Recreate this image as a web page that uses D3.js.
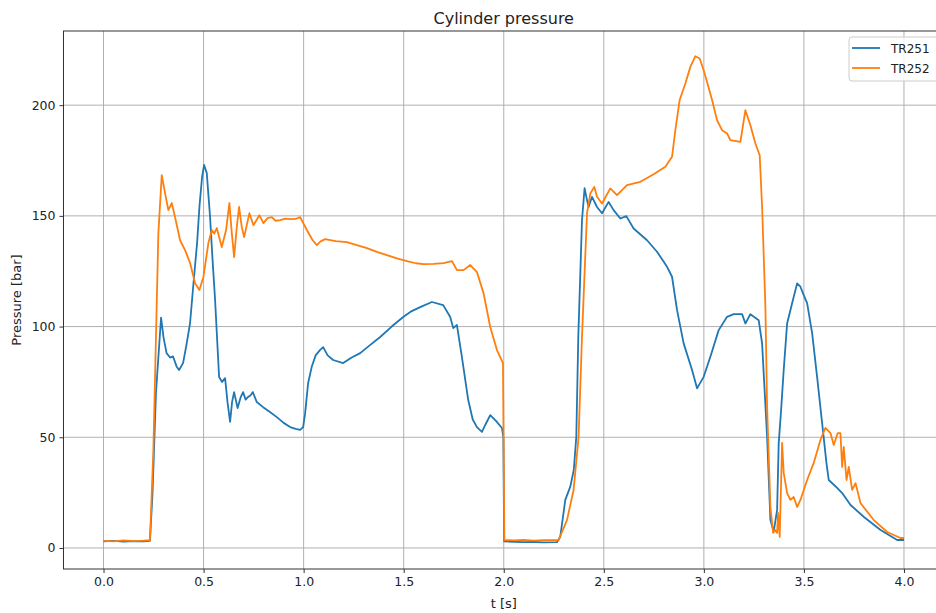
<!DOCTYPE html>
<html>
<head>
<meta charset="utf-8">
<script src="https://cdn.jsdelivr.net/npm/d3@7"></script>
<style>
  body { margin: 0; background: #fff; }
  svg { display: block; font-family: "DejaVu Sans", sans-serif; }
</style>
</head>
<body>
<div id="chart"></div>
<script>
// series: [t (s), pressure (bar)]
const tr251 = [[0,3.0],[0.05,3.2],[0.1,2.9],[0.15,3.1],[0.2,3.0],[0.232,3.2],[0.245,25],[0.262,70],[0.2875,104],[0.30,95],[0.315,88],[0.3325,86],[0.3475,86.5],[0.365,82],[0.3775,80.4],[0.3975,83.5],[0.415,92],[0.4325,101.6],[0.45,120],[0.4675,137.7],[0.48,155],[0.4925,167.5],[0.5025,173],[0.516,169.3],[0.5325,149.4],[0.545,130],[0.5575,112],[0.5775,77.2],[0.5925,75],[0.6075,76.7],[0.62,65.5],[0.6325,57],[0.6425,66],[0.6525,70.4],[0.67,63.2],[0.685,68],[0.6975,70.4],[0.71,67],[0.7225,68.2],[0.735,69],[0.746,70.4],[0.766,65.9],[0.7975,63.6],[0.83,61.5],[0.866,59.1],[0.9,56.5],[0.9325,54.6],[0.96,53.8],[0.9825,53.3],[0.9975,54.6],[1.0075,60.9],[1.0225,74.5],[1.041,82],[1.06,87],[1.0825,89.5],[1.0975,90.7],[1.12,87],[1.1475,84.9],[1.1975,83.5],[1.24,86],[1.2825,88],[1.33,91.5],[1.3825,95.3],[1.44,100],[1.4975,104.3],[1.54,107],[1.5825,108.8],[1.641,111.1],[1.6975,109.7],[1.7325,104.3],[1.7475,99.3],[1.766,100.7],[1.791,86.2],[1.8225,66.8],[1.845,58],[1.866,54.6],[1.891,52.4],[1.91,56],[1.9325,60],[1.96,57.5],[1.991,54.2],[1.998,50],[2.002,3.0],[2.05,2.8],[2.1,2.6],[2.15,2.7],[2.2,2.5],[2.266,2.6],[2.2825,5.1],[2.3075,21.7],[2.3325,27.7],[2.35,35.2],[2.3625,50.2],[2.3725,95.3],[2.391,148],[2.404,162.5],[2.414,158],[2.424,154],[2.441,158.6],[2.466,154],[2.491,151.2],[2.524,156.3],[2.549,152.6],[2.5825,148.8],[2.6125,149.9],[2.649,144.3],[2.716,139],[2.766,133.8],[2.816,127],[2.841,122.5],[2.866,107.4],[2.899,92.4],[2.941,80.4],[2.966,72.1],[2.999,77.3],[3.0325,86.4],[3.074,98.4],[3.116,104.4],[3.149,105.6],[3.191,105.6],[3.2075,101.4],[3.2325,105.6],[3.274,102.9],[3.291,92.4],[3.316,50.2],[3.3325,12.6],[3.349,7.4],[3.366,17.2],[3.374,47.3],[3.386,62.3],[3.399,80.4],[3.416,101.4],[3.441,110.5],[3.466,119.5],[3.4825,118],[3.5,114],[3.516,110.6],[3.541,97],[3.566,77.2],[3.591,56.4],[3.6125,38.4],[3.624,30.7],[3.666,27.1],[3.691,24.8],[3.733,19.4],[3.8,14],[3.883,8.1],[3.966,3.6],[4.0,3.6]];

const tr252 = [[0,3.2],[0.05,3.0],[0.1,3.4],[0.15,3.1],[0.2,3.3],[0.232,3.5],[0.249,44],[0.274,142],[0.291,168.4],[0.3075,160.3],[0.324,152.6],[0.341,155.8],[0.3575,149.4],[0.3825,139],[0.4075,134.5],[0.4325,128.7],[0.4575,119.6],[0.479,116.5],[0.499,122.3],[0.524,137.7],[0.541,143.6],[0.553,142],[0.566,144.5],[0.591,135.9],[0.6125,143.6],[0.629,155.8],[0.641,142.2],[0.6525,131.4],[0.666,144.9],[0.6775,154],[0.691,144.9],[0.7025,140.4],[0.729,151.2],[0.749,145.8],[0.779,150.3],[0.799,146.7],[0.82,149],[0.841,149.4],[0.86,147.8],[0.8825,148.1],[0.91,148.8],[0.9325,148.5],[0.96,148.6],[0.9825,149.4],[1.016,143.6],[1.045,139],[1.066,136.8],[1.085,138.5],[1.1075,139.5],[1.16,138.6],[1.216,138.1],[1.266,136.8],[1.316,135.4],[1.366,133.7],[1.416,132.3],[1.466,130.8],[1.516,129.6],[1.56,128.6],[1.599,128.2],[1.65,128.3],[1.699,128.7],[1.741,129.6],[1.766,125.5],[1.799,125.5],[1.8325,127.8],[1.866,124.6],[1.899,115.1],[1.9325,99.8],[1.966,89.4],[1.996,83.5],[2.0,40],[2.003,3.6],[2.05,3.4],[2.1,3.6],[2.15,3.3],[2.2,3.5],[2.274,3.6],[2.316,12.6],[2.349,26.2],[2.374,50.2],[2.391,95.4],[2.416,151.1],[2.4325,160.1],[2.4525,163.1],[2.466,158.6],[2.491,155.6],[2.5325,162.4],[2.566,159.4],[2.616,163.9],[2.6825,165.4],[2.749,168.8],[2.8075,172.2],[2.841,176.7],[2.8575,188.7],[2.879,202.3],[2.9075,209.8],[2.9325,217.3],[2.9575,222.1],[2.979,221.1],[2.999,215.8],[3.016,210.5],[3.041,202.3],[3.066,193.2],[3.091,188.7],[3.116,187.2],[3.1325,184.2],[3.1825,183.4],[3.2075,197.7],[3.2325,190.9],[3.2575,182.7],[3.279,177.4],[3.291,154.1],[3.3075,109],[3.316,63.8],[3.3325,18.6],[3.346,6.8],[3.356,8.1],[3.366,6.8],[3.371,15.8],[3.379,5],[3.391,47.4],[3.399,33.9],[3.416,24.8],[3.4325,21.7],[3.449,23],[3.466,18.5],[3.4825,21.7],[3.516,30.7],[3.549,38.4],[3.5825,48.8],[3.6075,54.2],[3.6325,51.9],[3.649,46.5],[3.669,51.9],[3.6825,51.9],[3.691,36.6],[3.699,45.6],[3.713,30.7],[3.724,36.6],[3.741,26.2],[3.758,29.3],[3.7825,20.3],[3.849,12.6],[3.916,7.2],[3.9825,4.5],[4.0,4.5]];

const seriesNames = ["TR251", "TR252"];
const seriesColors = ["#1f77b4", "#ff7f0e"];
const xTicks = [0, 0.5, 1, 1.5, 2, 2.5, 3, 3.5, 4];
const yTicks = [0, 50, 100, 150, 200];

const W = 936, H = 613;
// axes box (right edge falls outside the picture, as in the original)
const margin = {top: 31, right: -8, bottom: 44, left: 63.5};
const width = W - margin.left - margin.right;
const height = H - margin.top - margin.bottom;

const xScale = d3.scaleLinear().domain([-0.2, 4.2]).range([0, width]);
const yScale = d3.scaleLinear().domain([-9.5, 233.5]).range([height, 0]);

const svg = d3.select("#chart").append("svg")
    .attr("width", W).attr("height", H);

const g = svg.append("g")
    .attr("transform", `translate(${margin.left},${margin.top})`);

g.append("clipPath").attr("id", "clip")
  .append("rect").attr("width", width).attr("height", height);

// grid
g.append("g").selectAll("line").data(xTicks).enter().append("line")
    .attr("x1", d => xScale(d)).attr("x2", d => xScale(d))
    .attr("y1", 0).attr("y2", height)
    .attr("stroke", "#b0b0b0").attr("stroke-width", 1);
g.append("g").selectAll("line").data(yTicks).enter().append("line")
    .attr("x1", 0).attr("x2", width)
    .attr("y1", d => yScale(d)).attr("y2", d => yScale(d))
    .attr("stroke", "#b0b0b0").attr("stroke-width", 1);

// lines
const line = d3.line()
    .x(d => xScale(d[0]))
    .y(d => yScale(d[1]));

[tr251, tr252].forEach((data, i) => {
  g.append("path")
    .datum(data)
    .attr("clip-path", "url(#clip)")
    .attr("fill", "none")
    .attr("stroke", seriesColors[i])
    .attr("stroke-width", 1.8)
    .attr("stroke-linejoin", "round")
    .attr("d", line);
});

// axes
const xAxis = d3.axisBottom(xScale).tickValues(xTicks).tickFormat(d3.format(".1f")).tickSize(4).tickPadding(4);
const yAxis = d3.axisLeft(yScale).tickValues(yTicks).tickSize(4).tickPadding(4);

const gx = g.append("g").attr("transform", `translate(0,${height})`).call(xAxis);
const gy = g.append("g").call(yAxis);
[gx, gy].forEach(a => {
  a.select(".domain").remove();
  a.selectAll("text").attr("fill", "#222").style("font-size", "12.5px").style("font-family", "DejaVu Sans");
  a.selectAll("line").attr("stroke", "#333");
});

// frame
g.append("rect")
    .attr("width", width).attr("height", height)
    .attr("fill", "none").attr("stroke", "#333").attr("stroke-width", 1);

// title and labels
svg.append("text")
    .attr("x", margin.left + width / 2).attr("y", 24)
    .attr("text-anchor", "middle")
    .style("font-size", "16px").attr("fill", "#222")
    .text("Cylinder pressure");

svg.append("text")
    .attr("x", margin.left + width / 2).attr("y", 608)
    .attr("text-anchor", "middle")
    .style("font-size", "13px").attr("fill", "#222")
    .text("t [s]");

svg.append("text")
    .attr("transform", `translate(21,${margin.top + height / 2}) rotate(-90)`)
    .attr("text-anchor", "middle")
    .style("font-size", "13px").attr("fill", "#222")
    .text("Pressure [bar]");

// legend
const legend = svg.append("g").attr("transform", "translate(849,37)");
legend.append("rect")
    .attr("width", 92).attr("height", 44).attr("rx", 3)
    .attr("fill", "#fff").attr("fill-opacity", 0.8)
    .attr("stroke", "#ccc");
seriesNames.forEach((name, i) => {
  legend.append("line")
    .attr("x1", 3).attr("x2", 31)
    .attr("y1", 11 + i * 20).attr("y2", 11 + i * 20)
    .attr("stroke", seriesColors[i]).attr("stroke-width", 1.8);
  legend.append("text")
    .attr("x", 42).attr("y", 15.5 + i * 20)
    .style("font-size", "12px").attr("fill", "#222")
    .text(name);
});
</script>
</body>
</html>
